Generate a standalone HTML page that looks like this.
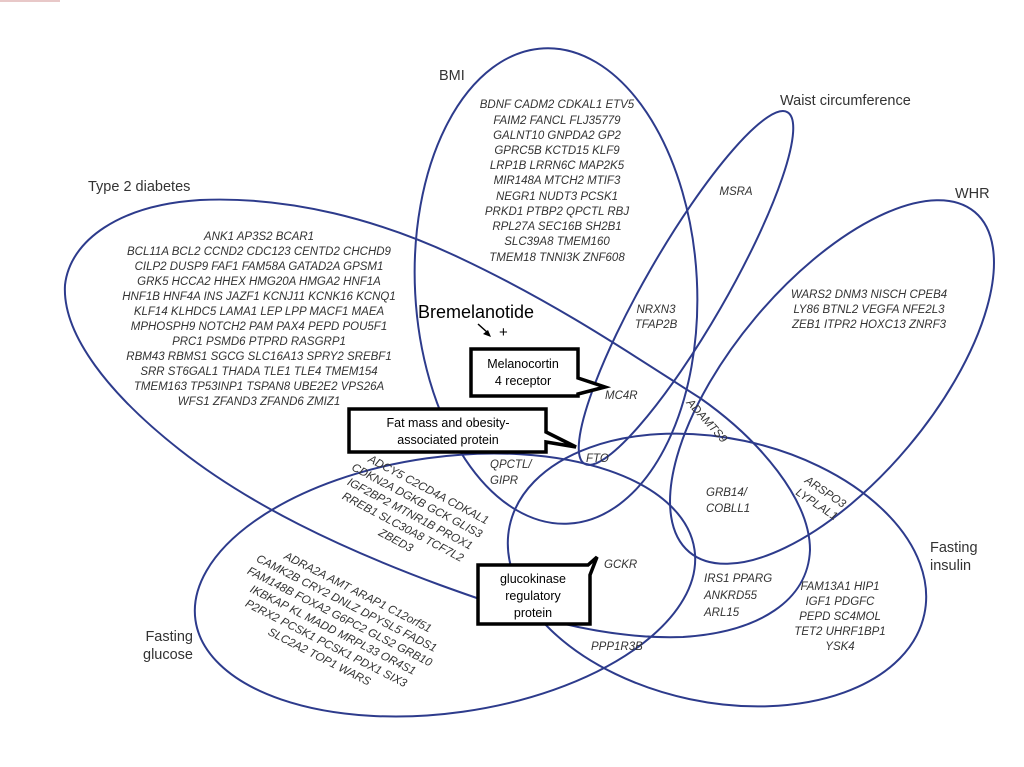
<!DOCTYPE html>
<html><head><meta charset="utf-8"><style>
html,body{margin:0;padding:0;background:#fff;}
svg{display:block;}
.g{font-family:"Liberation Sans",sans-serif;font-style:italic;font-size:11.5px;fill:#333;}
.h{font-family:"Liberation Sans",sans-serif;font-size:14.5px;fill:#333;}
.b{font-family:"Liberation Sans",sans-serif;font-size:12.5px;fill:#000;}
.e{fill:none;stroke:#2d3b8c;stroke-width:2;}
</style></head><body>
<svg width="1024" height="767" viewBox="0 0 1024 767" xmlns="http://www.w3.org/2000/svg">
<rect x="0" y="0" width="60" height="2" fill="#e8c8c8"/>
<ellipse class="e" cx="556" cy="286" rx="141" ry="238" transform="rotate(-3 556 286)"/>
<ellipse class="e" cx="686" cy="288" rx="203" ry="40" transform="rotate(-60 686 288)"/>
<ellipse class="e" cx="832" cy="382" rx="222" ry="100" transform="rotate(-50 832 382)"/>
<ellipse class="e" cx="717" cy="570" rx="212" ry="132" transform="rotate(12 717 570)"/>
<ellipse class="e" cx="445" cy="585" rx="252" ry="128" transform="rotate(-8 445 585)"/>
<path class="e" d="M65,285 C70,240 120,205 200,200 C290,196 380,220 460,258 C560,305 640,360 700,398 C760,440 810,500 810,550 C808,600 760,632 683,637 C600,640 520,614 440,585 C340,548 250,505 180,450 C110,395 62,335 65,285 Z"/>
<text class="h" x="439" y="80">BMI</text>
<text class="h" x="780" y="105">Waist circumference</text>
<text class="h" x="955" y="198">WHR</text>
<text class="h" x="88" y="191">Type 2 diabetes</text>
<text class="h" x="930" y="552">Fasting</text>
<text class="h" x="930" y="570">insulin</text>
<text class="h" x="193" y="641" text-anchor="end">Fasting</text>
<text class="h" x="193" y="659" text-anchor="end">glucose</text>
<g class="g" text-anchor="middle">
<text x="557" y="108">BDNF CADM2 CDKAL1 ETV5</text>
<text x="557" y="124">FAIM2 FANCL FLJ35779</text>
<text x="557" y="139">GALNT10 GNPDA2 GP2</text>
<text x="557" y="154">GPRC5B KCTD15 KLF9</text>
<text x="557" y="169">LRP1B LRRN6C MAP2K5</text>
<text x="557" y="184">MIR148A MTCH2 MTIF3</text>
<text x="557" y="200">NEGR1 NUDT3 PCSK1</text>
<text x="557" y="215">PRKD1 PTBP2 QPCTL RBJ</text>
<text x="557" y="230">RPL27A SEC16B SH2B1</text>
<text x="557" y="245">SLC39A8 TMEM160</text>
<text x="557" y="261">TMEM18 TNNI3K ZNF608</text>
</g>
<g class="g" text-anchor="middle">
<text x="259" y="240">ANK1 AP3S2 BCAR1</text>
<text x="259" y="255">BCL11A BCL2 CCND2 CDC123 CENTD2 CHCHD9</text>
<text x="259" y="270">CILP2 DUSP9 FAF1 FAM58A GATAD2A GPSM1</text>
<text x="259" y="285">GRK5 HCCA2 HHEX HMG20A HMGA2 HNF1A</text>
<text x="259" y="300">HNF1B HNF4A INS JAZF1 KCNJ11 KCNK16 KCNQ1</text>
<text x="259" y="315">KLF14 KLHDC5 LAMA1 LEP LPP MACF1 MAEA</text>
<text x="259" y="330">MPHOSPH9 NOTCH2 PAM PAX4 PEPD POU5F1</text>
<text x="259" y="345">PRC1 PSMD6 PTPRD RASGRP1</text>
<text x="259" y="360">RBM43 RBMS1 SGCG SLC16A13 SPRY2 SREBF1</text>
<text x="259" y="375">SRR ST6GAL1 THADA TLE1 TLE4 TMEM154</text>
<text x="259" y="390">TMEM163 TP53INP1 TSPAN8 UBE2E2 VPS26A</text>
<text x="259" y="405">WFS1 ZFAND3 ZFAND6 ZMIZ1</text>
</g>
<g class="g" text-anchor="middle" transform="translate(-8 10) rotate(28 420 500)">
<text x="425" y="478">ADCY5 C2CD4A CDKAL1</text>
<text x="420" y="493">CDKN2A DGKB GCK GLIS3</text>
<text x="420" y="508">IGF2BP2 MTNR1B PROX1</text>
<text x="420" y="523">RREB1 SLC30A8 TCF7L2</text>
<text x="420" y="538">ZBED3</text>
</g>
<g class="g" text-anchor="middle" transform="rotate(27 335 615)">
<text x="345" y="588">ADRA2A AMT ARAP1 C12orf51</text>
<text x="340" y="603">CAMK2B CRY2 DNLZ DPYSL5 FADS1</text>
<text x="340" y="618">FAM148B FOXA2 G6PC2 GLS2 GRB10</text>
<text x="340" y="633">IKBKAP KL MADD MRPL33 OR4S1</text>
<text x="340" y="648">P2RX2 PCSK1 PCSK1 PDX1 SIX3</text>
<text x="340" y="663">SLC2A2 TOP1 WARS</text>
</g>
<g class="g" text-anchor="middle">
<text x="869" y="298">WARS2 DNM3 NISCH CPEB4</text>
<text x="869" y="313">LY86 BTNL2 VEGFA NFE2L3</text>
<text x="869" y="328">ZEB1 ITPR2 HOXC13 ZNRF3</text>
<text x="840" y="590">FAM13A1 HIP1</text>
<text x="840" y="605">IGF1 PDGFC</text>
<text x="840" y="620">PEPD SC4MOL</text>
<text x="840" y="635">TET2 UHRF1BP1</text>
<text x="840" y="650">YSK4</text>
<text x="736" y="195">MSRA</text>
<text x="656" y="313">NRXN3</text>
<text x="656" y="328">TFAP2B</text>
</g>
<g class="g">
<text x="605" y="399">MC4R</text>
<text x="586" y="462">FTO</text>
<text x="490" y="468">QPCTL/</text>
<text x="490" y="484">GIPR</text>
<text x="706" y="496">GRB14/</text>
<text x="706" y="512">COBLL1</text>
<text x="704" y="582">IRS1 PPARG</text>
<text x="704" y="599">ANKRD55</text>
<text x="704" y="616">ARL15</text>
<text x="604" y="568">GCKR</text>
<text x="591" y="650">PPP1R3B</text>
<text x="0" y="0" transform="translate(686 403) rotate(48)">ADAMTS9</text>
<text x="0" y="0" transform="translate(804 482) rotate(34)">ARSPO3</text>
<text x="0" y="0" transform="translate(795 494) rotate(34)">LYPLAL1</text>
</g>
<text x="418" y="318" font-family="Liberation Sans, sans-serif" font-size="18" fill="#000">Bremelanotide</text>
<line x1="478" y1="324" x2="488" y2="333" stroke="#000" stroke-width="1.5"/>
<polygon points="491,337 483,334 488,330" fill="#000"/>
<text x="499" y="337" font-family="Liberation Sans, sans-serif" font-size="15" fill="#000">+</text>
<path d="M471,349 H578 V378 L605,387 L578,394 V396 H471 Z" fill="#fff" stroke="#000" stroke-width="3.5"/>
<text class="b" x="523" y="368" text-anchor="middle">Melanocortin</text>
<text class="b" x="523" y="385" text-anchor="middle">4 receptor</text>
<path d="M349,409 H546 V432 L576,447 L546,442 V452 H349 Z" fill="#fff" stroke="#000" stroke-width="3.5"/>
<text class="b" x="448" y="427" text-anchor="middle">Fat mass and obesity-</text>
<text class="b" x="448" y="444" text-anchor="middle">associated protein</text>
<path d="M478,565 H588 L597,557 L590,575 V624 H478 Z" fill="#fff" stroke="#000" stroke-width="3.5"/>
<text class="b" x="533" y="583" text-anchor="middle">glucokinase</text>
<text class="b" x="533" y="600" text-anchor="middle">regulatory</text>
<text class="b" x="533" y="617" text-anchor="middle">protein</text>
</svg>
</body></html>
